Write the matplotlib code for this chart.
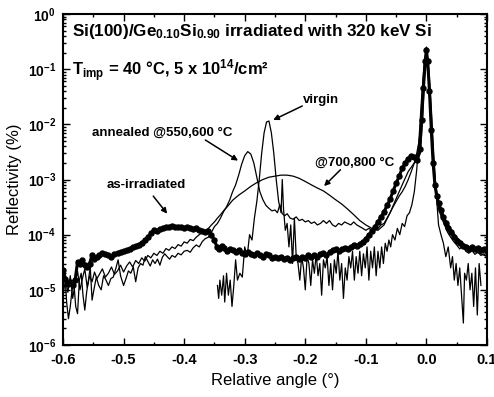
import numpy as np
import matplotlib
matplotlib.use("Agg")
import matplotlib.pyplot as plt
from matplotlib.ticker import FixedLocator, LogLocator, FuncFormatter, NullFormatter, MultipleLocator

plt.rcParams['font.family'] = ['Liberation Sans', 'DejaVu Sans']
plt.rcParams['axes.unicode_minus'] = False
plt.rcParams['mathtext.fontset'] = 'custom'
plt.rcParams['mathtext.rm'] = 'Liberation Sans'
plt.rcParams['mathtext.it'] = 'Liberation Sans:italic'
plt.rcParams['mathtext.bf'] = 'Liberation Sans:bold'

# as-irradiated (symbols)
as_x = [-0.600, -0.596, -0.592, -0.588, -0.584, -0.580, -0.576, -0.572, -0.568, -0.564,
        -0.560, -0.556, -0.552, -0.548, -0.544, -0.540, -0.535, -0.530, -0.525, -0.520,
        -0.515, -0.510, -0.505, -0.500, -0.495, -0.490, -0.485, -0.480, -0.475, -0.470,
        -0.465, -0.460, -0.455, -0.450, -0.445, -0.440, -0.435, -0.430, -0.425, -0.420,
        -0.415, -0.410, -0.405, -0.400, -0.395, -0.390, -0.385, -0.380, -0.375, -0.370,
        -0.365, -0.360, -0.355, -0.350, -0.346, -0.342, -0.338, -0.334, -0.330, -0.325,
        -0.320, -0.315, -0.310, -0.305, -0.300, -0.295, -0.290, -0.285, -0.280, -0.275,
        -0.270, -0.265, -0.260, -0.255, -0.250, -0.245, -0.240, -0.235, -0.230, -0.225,
        -0.220, -0.215, -0.210, -0.205, -0.200, -0.195, -0.190, -0.185, -0.180, -0.175,
        -0.170, -0.165, -0.160, -0.155, -0.150, -0.145, -0.140, -0.135, -0.130, -0.125,
        -0.120, -0.115, -0.110, -0.105, -0.100, -0.095, -0.090, -0.085, -0.080, -0.075,
        -0.070, -0.065, -0.060, -0.055, -0.050, -0.045, -0.040, -0.035, -0.030, -0.025,
        -0.020, -0.015, -0.011, -0.008, -0.005, -0.002, 0.000, 0.002, 0.005, 0.008,
        0.011, 0.014, 0.017, 0.020, 0.024, 0.028, 0.032, 0.036, 0.040, 0.045,
        0.050, 0.055, 0.060, 0.065, 0.070, 0.075, 0.080, 0.085, 0.090, 0.095, 0.100]
as_y = [2.3e-5, 1.6e-5, 1.3e-5, 1.4e-5, 1.2e-5, 1.5e-5, 3.2e-5, 3.0e-5, 3.5e-5, 2.8e-5,
        2.6e-5, 3.0e-5, 4.3e-5, 3.6e-5, 3.9e-5, 4.2e-5, 4.6e-5, 4.4e-5, 4.2e-5, 4.0e-5,
        4.5e-5, 4.7e-5, 4.9e-5, 5.0e-5, 5.2e-5, 5.5e-5, 6.0e-5, 6.2e-5, 6.6e-5, 7.2e-5,
        8.0e-5, 9.0e-5, 1.05e-4, 1.2e-4, 1.15e-4, 1.25e-4, 1.3e-4, 1.35e-4, 1.4e-4, 1.45e-4,
        1.4e-4, 1.35e-4, 1.4e-4, 1.3e-4, 1.35e-4, 1.3e-4, 1.25e-4, 1.3e-4, 1.2e-4, 1.15e-4,
        1.1e-4, 1.15e-4, 1.0e-4, 8.0e-5, 6.0e-5, 5.5e-5, 6.2e-5, 5.8e-5, 5.0e-5, 5.5e-5,
        5.2e-5, 4.8e-5, 5.3e-5, 4.6e-5, 4.4e-5, 4.8e-5, 4.5e-5, 4.2e-5, 4.6e-5, 4.3e-5,
        4.0e-5, 4.4e-5, 4.2e-5, 3.8e-5, 4.0e-5, 3.7e-5, 3.9e-5, 3.6e-5, 3.8e-5, 3.5e-5,
        3.7e-5, 3.9e-5, 3.6e-5, 4.0e-5, 3.8e-5, 4.2e-5, 3.9e-5, 4.3e-5, 4.0e-5, 4.4e-5,
        4.6e-5, 4.2e-5, 4.8e-5, 5.2e-5, 5.5e-5, 5.0e-5, 5.4e-5, 5.8e-5, 5.6e-5, 6.0e-5,
        6.5e-5, 6.2e-5, 6.8e-5, 7.5e-5, 8.5e-5, 1.0e-4, 1.15e-4, 1.4e-4, 1.7e-4, 2.1e-4,
        2.6e-4, 3.4e-4, 4.4e-4, 6.2e-4, 8.5e-4, 1.15e-3, 1.6e-3, 2.0e-3, 2.4e-3, 2.7e-3,
        2.6e-3, 2.3e-3, 3.5e-3, 1.2e-2, 4.5e-2, 0.14, 0.22, 0.14, 4.0e-2, 8.0e-3,
        2.0e-3, 8.0e-4, 5.0e-4, 3.8e-4, 2.8e-4, 2.1e-4, 1.6e-4, 1.3e-4, 1.1e-4, 9.0e-5,
        7.8e-5, 7.0e-5, 6.3e-5, 6.0e-5, 5.6e-5, 5.9e-5, 5.4e-5, 5.7e-5, 5.2e-5, 5.6e-5, 5.0e-5]

# virgin
vir_x = [-0.345, -0.343, -0.341, -0.338, -0.335, -0.333, -0.330, -0.327, -0.324, -0.321,
         -0.318, -0.315, -0.312, -0.308, -0.304, -0.300, -0.296, -0.292, -0.288, -0.284,
         -0.280, -0.276, -0.272, -0.268, -0.264, -0.260, -0.256, -0.252, -0.248, -0.244,
         -0.240, -0.238, -0.236, -0.233, -0.230, -0.227, -0.224, -0.221, -0.218, -0.215,
         -0.212, -0.209, -0.206, -0.203, -0.200, -0.197, -0.194, -0.191, -0.188, -0.185,
         -0.182, -0.179, -0.176, -0.173, -0.170, -0.167, -0.164, -0.161, -0.158, -0.155,
         -0.152, -0.149, -0.146, -0.143, -0.140, -0.137, -0.134, -0.131, -0.128, -0.125,
         -0.122, -0.119, -0.116, -0.113, -0.110, -0.107, -0.104, -0.101, -0.098, -0.095,
         -0.092, -0.089, -0.086, -0.083, -0.080, -0.077, -0.074, -0.071, -0.068, -0.065,
         -0.062, -0.059, -0.056, -0.052, -0.048, -0.044, -0.040, -0.036, -0.032, -0.028,
         -0.024, -0.020, -0.016, -0.012, -0.008, -0.004, 0.000, 0.004, 0.008, 0.012,
         0.016, 0.020, 0.024, 0.028, 0.032, 0.036, 0.040, 0.043, 0.046, 0.049,
         0.052, 0.055, 0.058, 0.061, 0.063, 0.066, 0.069, 0.072, 0.075, 0.078,
         0.081, 0.084, 0.087, 0.090]
vir_y = [1.2e-5, 7e-6, 1.5e-5, 8e-6, 1.8e-5, 6e-6, 2.0e-5, 8e-6, 1.5e-5, 5e-6,
         1.2e-5, 3.5e-5, 1.5e-5, 2.0e-5, 1.7e-5, 6e-5, 4e-5, 1.0e-4, 8e-5, 2.0e-4,
         4.0e-4, 1.0e-3, 3.0e-3, 7.0e-3, 1.1e-2, 1.15e-2, 7.0e-3, 3.0e-3, 1.0e-3, 4.0e-4,
         2.5e-4, 1.0e-3, 3.0e-4, 1.2e-4, 1.6e-4, 6e-5, 1.5e-4, 3e-5, 2.0e-4, 4e-5,
         3e-5, 1.5e-5, 4e-5, 2.5e-5, 1.0e-5, 4e-5, 3e-5, 1.2e-5, 3.5e-5, 2e-5,
         4.5e-5, 1.8e-5, 3e-5, 8e-6, 3.5e-5, 2.5e-5, 4e-5, 1.2e-5, 3e-5, 1.0e-5,
         3.5e-5, 2e-5, 5e-5, 1.5e-5, 3e-5, 7e-6, 2.5e-5, 1.5e-5, 4e-5, 2.5e-5,
         5e-5, 1.5e-5, 4e-5, 2e-5, 5e-5, 1.8e-5, 4.5e-5, 2.5e-5, 6e-5, 1.5e-5,
         5e-5, 2.5e-5, 6e-5, 1.8e-5, 5e-5, 2.5e-5, 6e-5, 3e-5, 7e-5, 5e-5,
         8e-5, 6e-5, 1.0e-4, 8e-5, 1.3e-4, 1.0e-4, 1.6e-4, 1.4e-4, 2.2e-4, 2.5e-4,
         3.5e-4, 6e-4, 1.5e-3, 6e-3, 3e-2, 0.12, 0.25, 0.10, 2e-2, 3e-3,
         6e-4, 1.5e-4, 1.0e-4, 7e-5, 4e-5, 6e-5, 2.5e-5, 4e-5, 1.5e-5, 3e-5,
         1.2e-5, 2.5e-5, 8e-6, 2.5e-6, 2e-5, 1.5e-5, 3e-5, 1.0e-5, 2e-5, 5e-6,
         2.5e-5, 3.5e-6, 3e-5, 1.2e-5]

# annealed @550,600 C
a550_x = [-0.600, -0.597, -0.594, -0.591, -0.588, -0.585, -0.582, -0.579, -0.576, -0.573,
          -0.570, -0.567, -0.564, -0.561, -0.558, -0.555, -0.552, -0.549, -0.545, -0.541,
          -0.537, -0.533, -0.529, -0.525, -0.521, -0.517, -0.513, -0.509, -0.505, -0.500,
          -0.496, -0.492, -0.488, -0.484, -0.480, -0.476, -0.472, -0.468, -0.464, -0.460,
          -0.456, -0.452, -0.448, -0.444, -0.440, -0.436, -0.432, -0.428, -0.424, -0.420,
          -0.415, -0.410, -0.405, -0.400, -0.395, -0.390, -0.385, -0.380, -0.375, -0.370,
          -0.365, -0.360, -0.355, -0.350, -0.345, -0.340, -0.335, -0.330, -0.325, -0.320,
          -0.315, -0.310, -0.305, -0.300, -0.295, -0.290, -0.285, -0.280, -0.275, -0.270,
          -0.265, -0.260, -0.255, -0.250, -0.246, -0.242, -0.238, -0.234, -0.230, -0.225,
          -0.220, -0.215, -0.210, -0.205, -0.200, -0.195, -0.190, -0.185, -0.180, -0.175,
          -0.170, -0.165, -0.160, -0.155, -0.150, -0.145, -0.140, -0.135, -0.130, -0.125,
          -0.120, -0.115, -0.110, -0.105, -0.100, -0.095, -0.090, -0.085, -0.080, -0.075,
          -0.070, -0.065, -0.060, -0.055, -0.050, -0.045, -0.040, -0.035, -0.030, -0.025,
          -0.020, -0.016, -0.012, -0.008, -0.004, 0.000, 0.004, 0.008, 0.012, 0.016,
          0.020, 0.025, 0.030, 0.035, 0.040, 0.045, 0.050, 0.055, 0.060, 0.065,
          0.070, 0.075, 0.080, 0.085, 0.090, 0.095, 0.100]
a550_y = [1.3e-5, 2.0e-5, 6e-6, 3e-6, 5e-6, 1.0e-5, 1.3e-5, 5e-6, 3.7e-6, 1.5e-5,
          2.0e-5, 8e-6, 4.3e-6, 9e-6, 1.5e-5, 2.6e-5, 6.5e-6, 1.0e-5, 1.7e-5, 1.2e-5,
          1.0e-5, 1.8e-5, 1.5e-5, 1.2e-5, 1.6e-5, 1.7e-5, 2.4e-5, 3.5e-5, 1.8e-5, 1.2e-5,
          1.6e-5, 2.2e-5, 2.0e-5, 2.6e-5, 1.4e-5, 2.5e-5, 3.0e-5, 2.8e-5, 4.0e-5, 3.3e-5,
          2.7e-5, 3.5e-5, 3.0e-5, 3.6e-5, 2.8e-5, 3.9e-5, 4.5e-5, 4.0e-5, 3.6e-5, 4.2e-5,
          3.9e-5, 4.6e-5, 4.3e-5, 5.0e-5, 5.2e-5, 4.8e-5, 5.8e-5, 6.5e-5, 6.0e-5, 7.5e-5,
          8.5e-5, 9.0e-5, 1.1e-4, 1.4e-4, 1.6e-4, 2.0e-4, 2.6e-4, 3.2e-4, 4.2e-4, 6.0e-4,
          8.0e-4, 1.2e-3, 1.9e-3, 2.7e-3, 3.2e-3, 2.9e-3, 2.0e-3, 1.1e-3, 6.0e-4, 4.3e-4,
          3.4e-4, 3.0e-4, 2.7e-4, 2.8e-4, 2.5e-4, 3.5e-4, 2.4e-4, 2.2e-4, 2.4e-4, 2.0e-4,
          1.9e-4, 2.1e-4, 1.8e-4, 1.9e-4, 1.7e-4, 1.8e-4, 1.6e-4, 1.7e-4, 1.5e-4, 1.6e-4,
          1.8e-4, 1.6e-4, 1.8e-4, 1.5e-4, 1.4e-4, 1.6e-4, 1.5e-4, 1.7e-4, 1.6e-4, 1.5e-4,
          1.7e-4, 1.5e-4, 1.4e-4, 1.3e-4, 1.2e-4, 1.3e-4, 1.2e-4, 1.4e-4, 1.3e-4, 1.5e-4,
          1.6e-4, 2.0e-4, 2.5e-4, 3.2e-4, 4.0e-4, 5.0e-4, 6.0e-4, 7.5e-4, 1.0e-3, 1.4e-3,
          2.0e-3, 3.0e-3, 5.0e-3, 1.5e-2, 6.0e-2, 0.24, 6.0e-2, 8.0e-3, 1.5e-3, 5.0e-4,
          3.0e-4, 2.0e-4, 1.5e-4, 1.1e-4, 9.0e-5, 7.5e-5, 6.5e-5, 5.5e-5, 6.5e-5, 5.0e-5,
          4.6e-5, 5.2e-5, 4.4e-5, 4.8e-5, 4.2e-5, 4.5e-5, 4.0e-5]

# annealed @700,800 C
a700_x = [-0.600, -0.596, -0.592, -0.588, -0.584, -0.580, -0.576, -0.572, -0.568, -0.564,
          -0.560, -0.556, -0.552, -0.548, -0.544, -0.540, -0.535, -0.530, -0.525, -0.520,
          -0.515, -0.510, -0.505, -0.500, -0.495, -0.490, -0.485, -0.480, -0.475, -0.470,
          -0.465, -0.460, -0.455, -0.450, -0.445, -0.440, -0.435, -0.430, -0.425, -0.420,
          -0.415, -0.410, -0.405, -0.400, -0.395, -0.390, -0.385, -0.380, -0.375, -0.370,
          -0.365, -0.360, -0.355, -0.350, -0.345, -0.340, -0.335, -0.330, -0.325, -0.320,
          -0.310, -0.300, -0.290, -0.280, -0.270, -0.260, -0.250, -0.240, -0.230, -0.220,
          -0.210, -0.200, -0.190, -0.180, -0.170, -0.160, -0.150, -0.140, -0.130, -0.120,
          -0.110, -0.100, -0.090, -0.080, -0.070, -0.060, -0.050, -0.040, -0.030, -0.020,
          -0.015, -0.010, -0.006, -0.003, 0.000, 0.003, 0.006, 0.010, 0.015, 0.020,
          0.025, 0.030, 0.040, 0.050, 0.060, 0.070, 0.080, 0.090, 0.100]
a700_y = [8e-6, 1.5e-5, 9e-6, 1.8e-5, 7e-6, 1.3e-5, 2.2e-5, 1.0e-5, 1.6e-5, 2.4e-5,
          1.1e-5, 1.8e-5, 1.4e-5, 2.1e-5, 1.6e-5, 1.9e-5, 2.4e-5, 1.7e-5, 2.0e-5, 2.6e-5,
          1.9e-5, 2.2e-5, 2.8e-5, 2.1e-5, 2.7e-5, 3.2e-5, 2.6e-5, 3.4e-5, 3.0e-5, 3.8e-5,
          3.3e-5, 4.2e-5, 3.8e-5, 4.6e-5, 4.2e-5, 5.0e-5, 4.6e-5, 5.6e-5, 5.2e-5, 6.0e-5,
          5.6e-5, 6.6e-5, 6.2e-5, 7.4e-5, 7.0e-5, 8.2e-5, 7.8e-5, 9.0e-5, 1.0e-4, 1.1e-4,
          1.2e-4, 1.3e-4, 1.5e-4, 1.7e-4, 2.0e-4, 2.3e-4, 2.7e-4, 3.1e-4, 3.6e-4, 4.2e-4,
          5.2e-4, 6.2e-4, 7.5e-4, 8.8e-4, 1.0e-3, 1.1e-3, 1.15e-3, 1.2e-3, 1.2e-3, 1.15e-3,
          1.05e-3, 9.2e-4, 8.0e-4, 7.0e-4, 6.2e-4, 5.2e-4, 4.3e-4, 3.6e-4, 2.9e-4, 2.3e-4,
          1.8e-4, 1.5e-4, 1.3e-4, 1.2e-4, 1.5e-4, 2.5e-4, 4.5e-4, 8.0e-4, 1.4e-3, 2.0e-3,
          2.2e-3, 3.0e-3, 1.5e-2, 8.0e-2, 0.25, 0.10, 2.0e-2, 3.0e-3, 8.0e-4, 4.0e-4,
          2.6e-4, 2.0e-4, 1.3e-4, 9.0e-5, 7.0e-5, 6.0e-5, 5.0e-5, 4.5e-5, 4.0e-5]

x_ticks = [-0.6, -0.5, -0.4, -0.3, -0.2, -0.1, 0.0, 0.1]
x_tick_labels = ["-0.6", "-0.5", "-0.4", "-0.3", "-0.2", "-0.1", "0.0", "0.1"]

fig = plt.figure(figsize=(4.94, 3.97), dpi=100)
ax = fig.add_axes([63 / 494, 1 - 345 / 397, 424 / 494, 331 / 397])

ax.plot(a700_x, a700_y, color='black', lw=0.9)
ax.plot(a550_x, a550_y, color='black', lw=0.9)
ax.plot(vir_x, vir_y, color='black', lw=0.9)
ax.plot(as_x, as_y, color='black', lw=2.2, marker='o', ms=3.6, mec='black', mfc='black')

ax.set_yscale('log')
ax.set_xlim(-0.6, 0.1)
ax.set_ylim(1e-6, 1)

ax.xaxis.set_major_locator(FixedLocator(x_ticks))
ax.set_xticklabels(x_tick_labels)
ax.xaxis.set_minor_locator(MultipleLocator(0.05))
ax.yaxis.set_major_locator(LogLocator(base=10, numticks=10))
ax.yaxis.set_minor_locator(LogLocator(base=10, subs=np.arange(2, 10), numticks=10))
ax.yaxis.set_minor_formatter(NullFormatter())
ax.yaxis.set_major_formatter(FuncFormatter(lambda v, _: r'$\mathbf{10^{%d}}$' % round(np.log10(v))))

ax.tick_params(which='both', direction='in', top=True, right=True, width=1.0, colors='black')
ax.tick_params(which='major', length=5)
ax.tick_params(which='minor', length=2.5)
ax.tick_params(axis='y', which='major', labelsize=10, pad=5)
ax.tick_params(axis='x', which='major', labelsize=10.5, pad=6)
for lbl in ax.get_xticklabels():
    lbl.set_fontweight('bold')
for sp in ax.spines.values():
    sp.set_linewidth(1.5)

ax.set_xlabel('Relative angle (\u00b0)', fontsize=12, labelpad=4)
ax.set_ylabel('Reflectivity (%)', fontsize=12, labelpad=4)

ax.text(0.021, 0.946, r'Si(100)/Ge$_{\mathbf{0.10}}$Si$_{\mathbf{0.90}}$ irradiated with 320 keV Si',
        transform=ax.transAxes, fontsize=12.3, va='center', ha='left', fontweight='bold')
ax.text(0.021, 0.83, 'T$_{\\mathbf{imp}}$ = 40 \u00b0C, 5 x 10$^{\\mathbf{14}}$/cm\u00b2',
        transform=ax.transAxes, fontsize=12, va='center', ha='left', fontweight='bold')

lab_kw = dict(fontsize=9.5, ha='center', va='center', fontweight='bold')
arr_kw = dict(arrowstyle='-|>', color='black', lw=1.1, mutation_scale=8, shrinkA=0, shrinkB=0)

ax.text(-0.174, 2.8e-2, 'virgin', **lab_kw)
ax.annotate('', xy=(-0.253, 1.2e-2), xytext=(-0.205, 2.15e-2), arrowprops=arr_kw)

ax.text(-0.436, 7.0e-3, 'annealed @550,600 \u00b0C', **lab_kw)
ax.annotate('', xy=(-0.311, 2.2e-3), xytext=(-0.365, 5.2e-3), arrowprops=arr_kw)

ax.text(-0.119, 2.0e-3, '@700,800 \u00b0C', **lab_kw)
ax.annotate('', xy=(-0.169, 7.6e-4), xytext=(-0.142, 1.5e-3), arrowprops=arr_kw)

ax.text(-0.463, 8.0e-4, 'as-irradiated', **lab_kw)
ax.annotate('', xy=(-0.428, 2.4e-4), xytext=(-0.451, 5.0e-4), arrowprops=arr_kw)

fig.savefig('out.png', dpi=100)
